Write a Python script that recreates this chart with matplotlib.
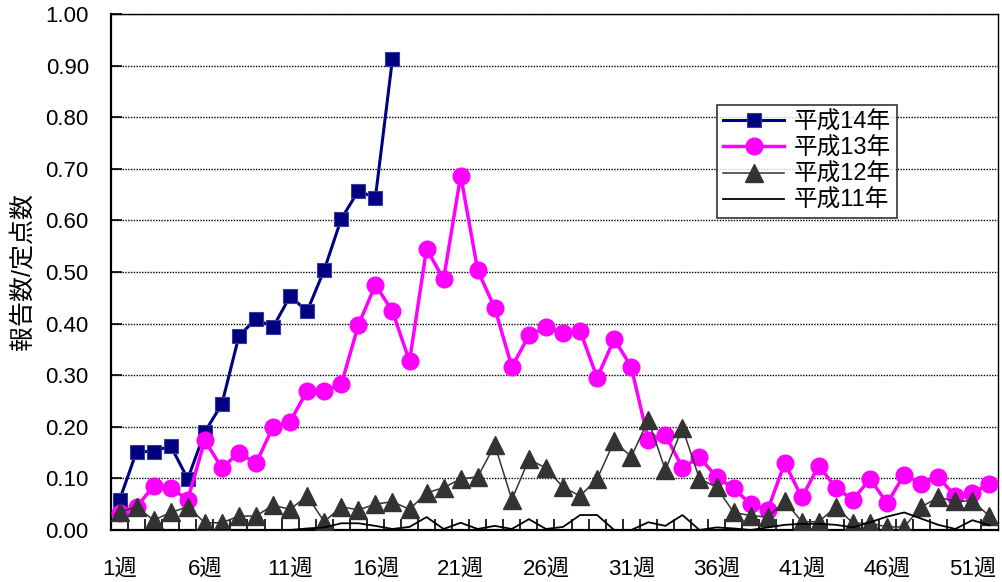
import matplotlib
matplotlib.use("Agg")
import matplotlib.pyplot as plt
import numpy as np

plt.rcParams["font.family"] = ["Liberation Sans", "Noto Sans CJK JP"]

weeks = np.arange(1, 53)

h14 = [0.058, 0.152, 0.152, 0.163, 0.099, 0.19, 0.244, 0.376, 0.409, 0.393,
       0.453, 0.424, 0.504, 0.603, 0.657, 0.644, 0.913]

h13 = [0.032, 0.045, 0.085, 0.081, 0.059, 0.174, 0.12, 0.15, 0.129, 0.20,
       0.21, 0.27, 0.27, 0.282, 0.397, 0.475, 0.424, 0.327, 0.545, 0.486,
       0.687, 0.503, 0.43, 0.316, 0.377, 0.393, 0.381, 0.386, 0.295, 0.370,
       0.316, 0.174, 0.184, 0.121, 0.141, 0.103, 0.081, 0.05, 0.039, 0.13,
       0.063, 0.125, 0.081, 0.059, 0.099, 0.052, 0.107, 0.09, 0.102, 0.066,
       0.071, 0.09]

h12 = [0.035, 0.045, 0.019, 0.034, 0.045, 0.014, 0.014, 0.027, 0.027, 0.048,
       0.040, 0.066, 0.016, 0.045, 0.039, 0.05, 0.055, 0.04, 0.072, 0.082,
       0.099, 0.103, 0.165, 0.059, 0.137, 0.12, 0.083, 0.066, 0.099, 0.172,
       0.142, 0.213, 0.116, 0.198, 0.099, 0.083, 0.034, 0.028, 0.025, 0.056,
       0.016, 0.016, 0.045, 0.013, 0.013, 0.006, 0.006, 0.045, 0.063, 0.056,
       0.056, 0.027]

h11 = [0, 0, 0, 0, 0, 0, 0, 0, 0, 0,
       0, 0.003, 0.005, 0.013, 0.013, 0.008, 0.002, 0.006, 0.025, 0.002,
       0.014, 0.002, 0.008, 0.002, 0.021, 0.002, 0.006, 0.029, 0.029, 0,
       0, 0.015, 0.008, 0.029, 0, 0.005, 0.003, 0, 0.005, 0.01,
       0.012, 0.012, 0.01, 0.005, 0.015, 0.026, 0.034, 0.022, 0.01, 0.002,
       0.019, 0.009]

labels = ["平成14年", "平成13年", "平成12年", "平成11年"]
tick_weeks = [1, 6, 11, 16, 21, 26, 31, 36, 41, 46, 51]

fig = plt.figure(figsize=(10.03, 5.82), dpi=100)
ax = fig.add_axes([111 / 1003, 52 / 582, 887 / 1003, 516 / 582])

l14, = ax.plot(weeks[:len(h14)], h14, color="#000080", lw=2.2, marker="s",
               ms=10.5, mec="#3a3aa0", mew=0.8, zorder=3)
l13, = ax.plot(weeks, h13, color="#ff00ff", lw=2.5, marker="o", ms=12,
               mec="#ff00ff", zorder=4)
l12, = ax.plot(weeks, h12, color="#333333", lw=1.1, marker="^", ms=12.5,
               mec="#333333", zorder=5)
l11, = ax.plot(weeks, h11, color="black", lw=1.3, zorder=6)

ax.set_xlim(0.5, 52.5)
ax.set_ylim(0, 1.0)
yt = np.arange(0, 1.01, 0.1)
ax.set_yticks(yt)
ax.set_yticklabels([f"{v:.2f}" for v in yt], fontsize=16)
ax.set_xticks(tick_weeks)
ax.set_xticklabels([f"{w}週" for w in tick_weeks], fontsize=16)
ax.set_xticks(np.arange(1.5, 52.5, 1), minor=True)
ax.tick_params(axis="x", which="major", length=0, pad=21)
ax.tick_params(axis="x", which="minor", direction="in", length=8, width=1.2)
ax.tick_params(axis="y", direction="in", length=8, width=1.2, pad=16)

ax.grid(axis="y", color="black", linestyle=(0, (1, 1)), linewidth=1)
for s in ["left", "bottom"]:
    ax.spines[s].set_linewidth(1.6)
for s in ["top", "right"]:
    ax.spines[s].set_linewidth(1.0)

ax.set_ylabel("報告数/定点数", fontsize=18)
ax.yaxis.set_label_coords(-0.086, 0.5)

leg = fig.legend([l14, l13, l12, l11], labels, loc="upper left",
                 bbox_to_anchor=(717 / 1003, 1 - 105 / 582), fontsize=17,
                 frameon=True, fancybox=False, edgecolor="black",
                 handlelength=2.6, borderpad=0.25, labelspacing=0.17,
                 handletextpad=0.4, borderaxespad=0)
leg.get_frame().set_linewidth(1.2)

fig.savefig("out.png", dpi=100)
